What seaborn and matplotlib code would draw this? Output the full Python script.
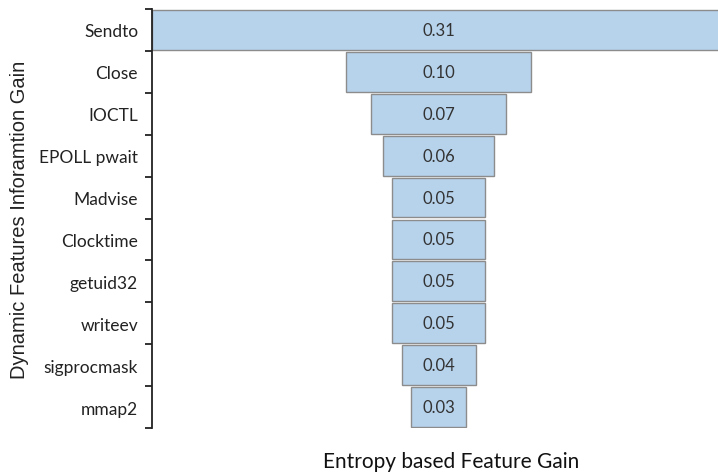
import pandas as pd
import numpy as np
import matplotlib
matplotlib.use('Agg')
import matplotlib.pyplot as plt
import seaborn as sns

# Daten
features = ['Sendto', 'Close', 'IOCTL', 'EPOLL pwait', 'Madvise', 'Clocktime',
            'getuid32', 'writeev', 'sigprocmask', 'mmap2']
gain = [0.31, 0.10, 0.073, 0.06, 0.05, 0.05, 0.05, 0.05, 0.04, 0.03]
gain_labels = ['0.31', '0.10', '0.07', '0.06', '0.05', '0.05', '0.05', '0.05', '0.04', '0.03']

df = pd.DataFrame({'feature': features, 'gain': gain})

sns.set_style('white')
plt.rcParams['font.family'] = ['Lato', 'DejaVu Sans']

fig = plt.figure(figsize=(7.18, 4.77), dpi=100)
ax = fig.add_axes([152 / 718, 1 - 429 / 477, 1 - 152 / 718, 419 / 477])

sns.barplot(data=df, x='gain', y='feature', orient='h', color='#B7D3EC',
            edgecolor='#8C8C8C', linewidth=1.0, width=0.95, saturation=1, ax=ax)

# Balken zentrieren -> Trichter
for patch in ax.patches:
    w = patch.get_width()
    patch.set_x(-w / 2)

for i, lab in enumerate(gain_labels):
    ax.text(0, i, lab, ha='center', va='center', fontsize=12, color='#333333')

ax.set_xlim(-0.155, 0.151)
ax.set_ylim(len(features) - 0.5, -0.5)

# Striche an den Kategoriegrenzen, Beschriftung in der Mitte
ax.set_yticks(np.arange(len(features) + 1) - 0.5)
ax.set_yticklabels([])
ax.set_yticks(np.arange(len(features)), minor=True)
ax.set_yticklabels(features, minor=True, fontsize=12.5, color='#222222')
ax.tick_params(axis='y', which='major', direction='out', length=5, width=1.3, color='#222222', left=True)
ax.tick_params(axis='y', which='minor', length=0, pad=10)
ax.set_xticks([])

for s in ['top', 'right', 'bottom']:
    ax.spines[s].set_visible(False)
ax.spines['left'].set_color('#222222')
ax.spines['left'].set_linewidth(1.3)

ax.set_xlabel('Entropy based Feature Gain', fontsize=15, color='#111111')
ax.xaxis.set_label_coords((451 - 152) / (718 - 152), -(452 - 429) / 419)
ax.set_ylabel('Dynamic Features Inforamtion Gain', fontsize=14.5, family=['Liberation Sans', 'DejaVu Sans'], color='#222222')
ax.yaxis.set_label_coords(-(152 - 29) / (718 - 152), 0.5)

fig.savefig('out.png', dpi=100)
